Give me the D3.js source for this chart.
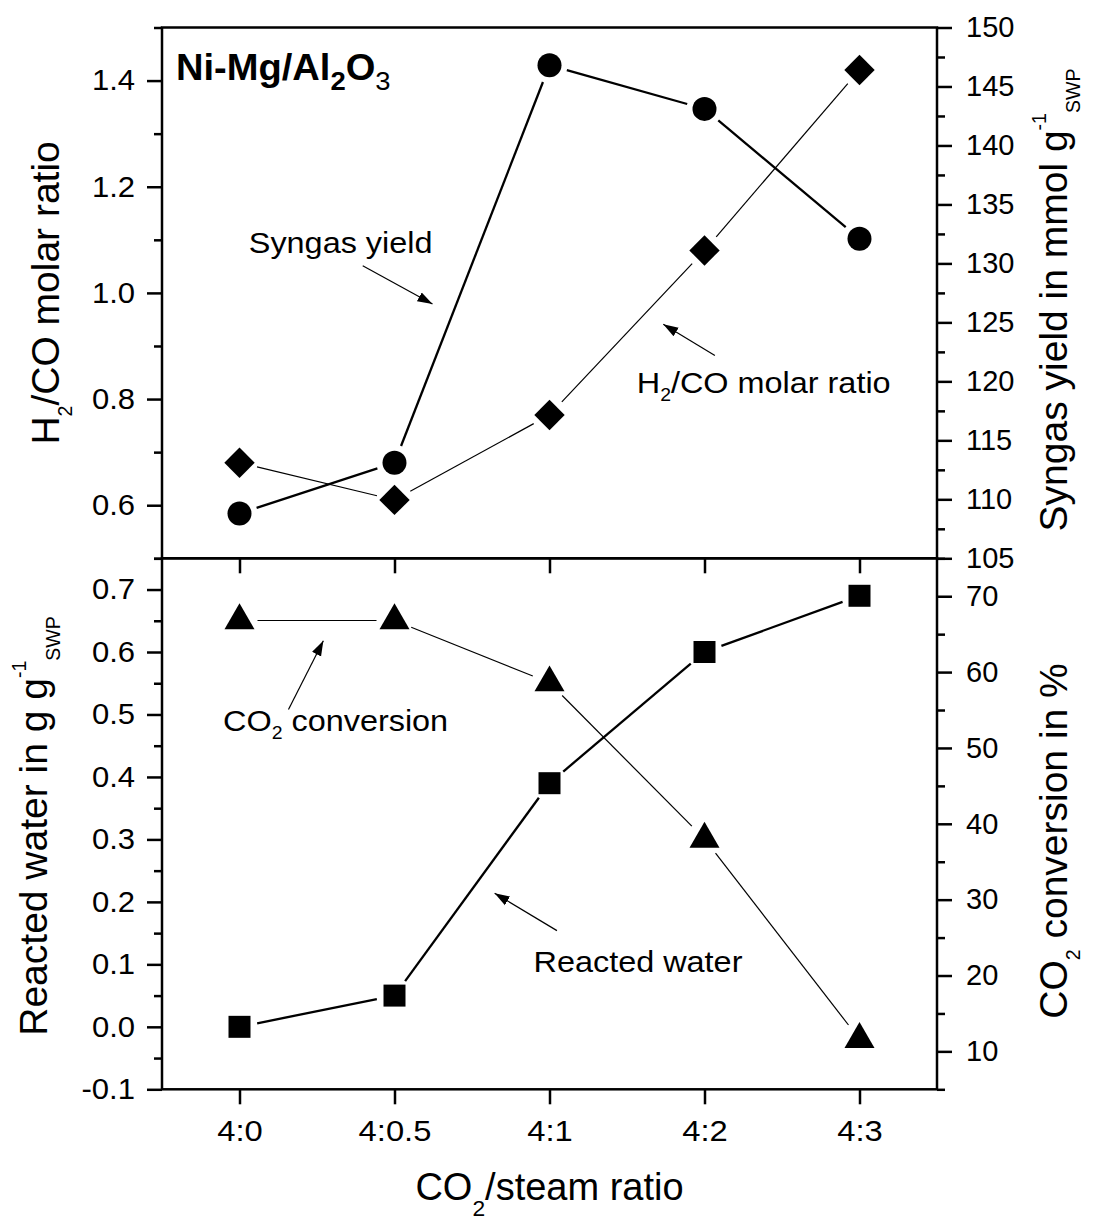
<!DOCTYPE html>
<html>
<head>
<meta charset="utf-8">
<script src="https://cdn.jsdelivr.net/npm/d3@7"></script>
<style>
  html, body { margin: 0; padding: 0; background: #fff; }
  svg { display: block; }
  text { font-family: "Liberation Sans", Arial, sans-serif; fill: #000; }
</style>
</head>
<body>
<svg id="chart" width="1096" height="1225"></svg>
<script>
// ---- data -------------------------------------------------------------
const categories    = ["4:0", "4:0.5", "4:1", "4:2", "4:3"];
const syngasYield   = [108.8, 113.1, 146.8, 143.1, 132.1];   // mmol g-1 SWP (right, upper)
const h2coRatio     = [0.68, 0.61, 0.77, 1.08, 1.42];        // molar ratio (left, upper)
const reactedWater  = [0.00, 0.05, 0.39, 0.60, 0.69];        // g g-1 SWP (left, lower)
const co2Conversion = [66.8, 66.8, 58.6, 38.0, 11.6];        // % (right, lower)

const h2coTicks    = [0.6, 0.8, 1.0, 1.2, 1.4];
const h2coMinor    = [0.5, 0.7, 0.9, 1.1, 1.3, 1.5];
const syngasTicks  = [105, 110, 115, 120, 125, 130, 135, 140, 145, 150];
const syngasMinor  = [107.5, 112.5, 117.5, 122.5, 127.5, 132.5, 137.5, 142.5, 147.5];
const waterTicks   = [-0.1, 0.0, 0.1, 0.2, 0.3, 0.4, 0.5, 0.6, 0.7];
const waterMinor   = [-0.05, 0.05, 0.15, 0.25, 0.35, 0.45, 0.55, 0.65, 0.75];
const co2Ticks     = [10, 20, 30, 40, 50, 60, 70];
const co2Minor     = [5, 15, 25, 35, 45, 55, 65, 75];

// ---- layout -----------------------------------------------------------
const left = 162, right = 937;
const topY = 27.5, midY = 558.3, botY = 1089.3;
const svg = d3.select("#chart");

const x = d3.scalePoint().domain(categories).range([left, right]).padding(0.5);
const xAt = i => x(categories[0]) + i * x.step();   // fractional category position

const yH2  = d3.scaleLinear().domain([0.5, 1.5]).range([midY, topY]);
const ySyn = d3.scaleLinear().domain([105, 150]).range([midY, topY]);
const yWat = d3.scaleLinear().domain([-0.1, 0.75]).range([botY, midY]);
const yCO2 = d3.scaleLinear().domain([5, 75]).range([botY, midY]);

const fmt1 = d => d.toFixed(1);
const fmt0 = d => d.toFixed(0);

// ---- axes -------------------------------------------------------------
// widen tick labels horizontally (wide Arial-style digits)
function styleAxis(g, fontSize, widen) {
  g.select(".domain").remove();
  g.selectAll(".tick line").attr("stroke", "#000").attr("stroke-width", 2.5);
  g.selectAll(".tick text").style("font-size", fontSize + "px").attr("fill", "#000")
    .each(function () {
      const t = d3.select(this);
      const tx = +t.attr("x") || 0;
      t.attr("x", 0).attr("transform", `translate(${tx},0) scale(${widen || 1},1)`);
    });
}
function yAxisPair(scale, major, minor, fmt, side, xPos, widen) {
  const make = side === "left" ? d3.axisLeft : d3.axisRight;
  svg.append("g").attr("transform", `translate(${xPos},0)`)
    .call(make(scale).tickValues(minor).tickSize(8).tickFormat(""))
    .call(g => styleAxis(g, 29));
  svg.append("g").attr("transform", `translate(${xPos},0)`)
    .call(make(scale).tickValues(major).tickSize(15).tickPadding(side === "left" ? 12 : 14).tickFormat(fmt))
    .call(g => styleAxis(g, 29, widen));
}
yAxisPair(yH2, h2coTicks, h2coMinor, fmt1, "left", left, 1.07);
yAxisPair(ySyn, syngasTicks, syngasMinor, fmt0, "right", right, 1);
yAxisPair(yWat, waterTicks, waterMinor, fmt1, "left", left, 1.07);
yAxisPair(yCO2, co2Ticks, co2Minor, fmt0, "right", right, 1);

// x axis below lower panel, mirrored inward ticks on its top edge
svg.append("g").attr("transform", `translate(0,${botY})`)
  .call(d3.axisBottom(x).tickSize(15).tickPadding(16))
  .call(g => styleAxis(g, 29, 1.13));
svg.append("g").attr("transform", `translate(0,${midY})`)
  .call(d3.axisBottom(x).tickSize(15).tickFormat(""))
  .call(g => styleAxis(g, 29));

// panel frames
[[topY, midY], [midY, botY]].forEach(([a, b]) => {
  svg.append("rect").attr("x", left).attr("y", a)
    .attr("width", right - left).attr("height", b - a)
    .attr("fill", "none").attr("stroke", "#000").attr("stroke-width", 2.5);
});

// ---- series -----------------------------------------------------------
const gap = 18;
function connect(values, yScale, width) {
  const pts = values.map((v, i) => [x(categories[i]), yScale(v)]);
  for (let i = 0; i < pts.length - 1; i++) {
    const [x1, y1] = pts[i], [x2, y2] = pts[i + 1];
    const len = Math.hypot(x2 - x1, y2 - y1);
    if (len <= 2 * gap) continue;
    const ux = (x2 - x1) / len, uy = (y2 - y1) / len;
    svg.append("line")
      .attr("x1", x1 + ux * gap).attr("y1", y1 + uy * gap)
      .attr("x2", x2 - ux * gap).attr("y2", y2 - uy * gap)
      .attr("stroke", "#000").attr("stroke-width", width);
  }
}
function markers(values, yScale, type, size, rot) {
  svg.append("g").selectAll("path").data(values).join("path")
    .attr("d", d3.symbol().type(type).size(size))
    .attr("transform", (v, i) => `translate(${x(categories[i])},${yScale(v)}) rotate(${rot || 0})`)
    .attr("fill", "#000");
}

connect(syngasYield, ySyn, 2.3);
connect(h2coRatio, yH2, 1.2);
connect(reactedWater, yWat, 2.3);
connect(co2Conversion, yCO2, 1.2);

markers(syngasYield, ySyn, d3.symbolCircle, Math.PI * 12 * 12);
markers(h2coRatio, yH2, d3.symbolSquare, 21.5 * 21.5, 45);
markers(reactedWater, yWat, d3.symbolSquare, 22 * 22);
markers(co2Conversion, yCO2, d3.symbolTriangle, 0.433 * 30 * 30);

// ---- annotations ------------------------------------------------------
svg.append("defs").append("marker")
  .attr("id", "head").attr("markerUnits", "userSpaceOnUse")
  .attr("viewBox", "0 -6 16 12").attr("refX", 15).attr("refY", 0)
  .attr("markerWidth", 16).attr("markerHeight", 12).attr("orient", "auto")
  .append("path").attr("d", "M0,-5L15,0L0,5Z").attr("fill", "#000");

function arrow(i1, v1, i2, v2, yScale) {
  svg.append("line")
    .attr("x1", xAt(i1)).attr("y1", yScale(v1))
    .attr("x2", xAt(i2)).attr("y2", yScale(v2))
    .attr("stroke", "#000").attr("stroke-width", 1.2)
    .attr("marker-end", "url(#head)");
}
// parts: [text, kind, weight] with kind "" normal, "sub", "sup"
function richText(parent, parts, size, subScale, subShift) {
  const t = parent.append("text").style("font-size", size + "px");
  let shift = 0;
  parts.forEach(([s, kind, weight]) => {
    const target = kind === "sub" ? subShift : kind === "sup" ? -0.55 * size : 0;
    const ts = t.append("tspan").text(s)
      .attr("dy", target - shift)
      .style("font-size", (kind ? size * subScale : size) + "px");
    if (weight) ts.style("font-weight", weight);
    shift = target;
  });
  return t;
}
const annScale = "scale(1.08,1)";

// upper panel labels
richText(svg.append("g").attr("transform", `translate(${xAt(-0.41)},${yH2(1.401)}) scale(1.03,1)`),
  [["Ni-Mg/Al", "", "bold"], ["2", "sub", "bold"], ["O", "", "bold"], ["3", "sub", "normal"]], 37, 0.72, 10)
  .style("font-weight", "bold");

richText(svg.append("g").attr("transform", `translate(${xAt(0.06)},${yH2(1.075)}) ${annScale}`),
  [["Syngas yield", ""]], 30, 0.6, 8);
arrow(0.795, 1.051, 1.245, 0.979, yH2);

richText(svg.append("g").attr("transform", `translate(${xAt(2.563)},${yH2(0.811)}) ${annScale}`),
  [["H", ""], ["2", "sub"], ["/CO molar ratio", ""]], 30, 0.6, 8);
arrow(3.067, 0.882, 2.734, 0.941, yH2);

// lower panel labels
richText(svg.append("g").attr("transform", `translate(${xAt(-0.106)},${yWat(0.473)}) ${annScale}`),
  [["CO", ""], ["2", "sub"], [" conversion", ""]], 30, 0.6, 8);
arrow(0.316, 0.508, 0.541, 0.618, yWat);

richText(svg.append("g").attr("transform", `translate(${xAt(1.897)},${yWat(0.0877)}) ${annScale}`),
  [["Reacted water", ""]], 30, 0.6, 8);
arrow(2.048, 0.154, 1.646, 0.214, yWat);

// ---- axis titles ------------------------------------------------------
function vTitle(xPos, yMid, parts) {
  richText(svg.append("g").attr("transform", `translate(${xPos},${yMid}) rotate(-90)`),
    parts, 39, 0.5, 13).attr("text-anchor", "middle");
}
vTitle(59, (topY + midY) / 2, [["H", ""], ["2", "sub"], ["/CO molar ratio", ""]]);
vTitle(47, 826, [["Reacted water in g g", ""], ["-1", "sup"], ["SWP", "sub"]]);
vTitle(1067, 300, [["Syngas yield in mmol g", ""], ["-1", "sup"], ["SWP", "sub"]]);
vTitle(1067, 841, [["CO", ""], ["2", "sub"], [" conversion in %", ""]]);

richText(svg.append("g").attr("transform", `translate(${(left + right) / 2},1200)`),
  [["CO", ""], ["2", "sub"], ["/steam ratio", ""]], 38, 0.6, 16).attr("text-anchor", "middle");
</script>
</body>
</html>
